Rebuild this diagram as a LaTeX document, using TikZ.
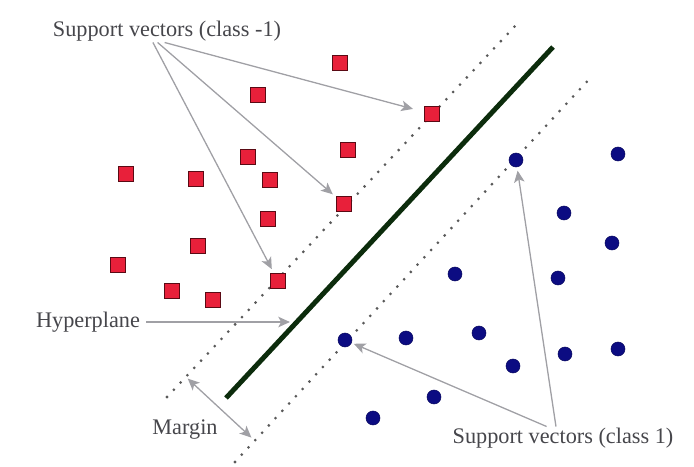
\documentclass[tikz,border=0pt]{standalone}
\usepackage{fontspec}
\setmainfont{Liberation Serif}
\usetikzlibrary{positioning}
\usetikzlibrary{arrows.meta}
\usetikzlibrary{calc}
\definecolor{sqred}{RGB}{232,32,58}
\definecolor{sqedge}{RGB}{90,10,20}
\definecolor{dotblue}{RGB}{12,12,130}
\definecolor{plane}{RGB}{12,44,12}
\definecolor{ptrgray}{RGB}{160,160,165}
\definecolor{txtgray}{RGB}{70,70,75}
\tikzset{>={Stealth[length=10pt, width=9pt, inset=2.5pt]}}
\tikzset{negv/.style={draw=sqedge, fill=sqred, rectangle, minimum size=12.5pt, inner sep=0pt, line width=0.6pt}}
\tikzset{posv/.style={draw=dotblue!70!black, fill=dotblue, circle, minimum size=12pt, inner sep=0pt, line width=0.4pt}}
\tikzset{lbl/.style={text=txtgray, font=\fontsize{19}{22}\selectfont, inner sep=1pt}}
\tikzset{ptr/.style={->, draw=ptrgray, fill=ptrgray, line width=1.1pt, shorten >=4pt}}
\tikzset{marg/.style={draw=black!65, line width=2.6pt, line cap=round, dash pattern=on 0pt off 8.5pt}}

\begin{document}
\begin{tikzpicture}[x=0.03cm, y=-0.03cm]
\useasboundingbox (0,0) rectangle (694,466);

% margins and hyperplane
\coordinate (ua) at (167,397);
\coordinate (ub) at (516,25);
\coordinate (la) at (235,462);
\coordinate (lb) at (593,75);
\coordinate (ha) at (226,398);
\coordinate (hb) at (553,47);
\draw[marg] (ua) -- (ub);
\draw[marg] (la) -- (lb);
\draw[plane, line width=4.2pt] (ha) -- (hb);

% class -1
\node[negv] (n1) at (340,63) {};
\node[negv] (n2) at (258,95) {};
\node[negv] (n3) at (432,114) {};
\node[negv] (n4) at (348,150) {};
\node[negv] (n5) at (248,157) {};
\node[negv] (n6) at (126,174) {};
\node[negv] (n7) at (196,179) {};
\node[negv] (n8) at (270,180) {};
\node[negv] (n9) at (344,204) {};
\node[negv] (n10) at (268,219) {};
\node[negv] (n11) at (198,246) {};
\node[negv] (n12) at (118,265) {};
\node[negv] (n13) at (278,281) {};
\node[negv] (n14) at (172,291) {};
\node[negv] (n15) at (213,300) {};

% class 1
\node[posv] (p1) at (516,160) {};
\node[posv] (p2) at (618,154) {};
\node[posv] (p3) at (564,213) {};
\node[posv] (p4) at (612,243) {};
\node[posv] (p5) at (455,274) {};
\node[posv] (p6) at (558,278) {};
\node[posv] (p7) at (345,340) {};
\node[posv] (p8) at (406,338) {};
\node[posv] (p9) at (479,333) {};
\node[posv] (p10) at (513,366) {};
\node[posv] (p11) at (565,354) {};
\node[posv] (p12) at (618,349) {};
\node[posv] (p13) at (434,397) {};
\node[posv] (p14) at (373,418) {};

% labels
\node[lbl] (svneg) at (167,31) {Support vectors (class -1)};
\node[lbl] (hyp) at (88,322) {Hyperplane};
\node[lbl] (mar) at (185,430) {Margin};
\node[lbl] (svpos) at (563,438) {Support vectors (class 1)};

\draw[ptr, shorten >=10pt] ([xshift=-2pt]svneg.south) -- (n3);
\draw[ptr] ([xshift=-8pt]svneg.south) -- (n9);
\draw[ptr] ([xshift=-12pt]svneg.south) -- (n13);

\coordinate (hpmid) at (297,322);
\draw[ptr, shorten >=6pt, shorten <=4pt] (hyp.east) -- (hpmid);

\coordinate (mu) at (186,377);
\coordinate (ml) at (254,440);
\draw[ptr, <->, shorten <=2pt, shorten >=3pt] (mu) -- (ml);

\draw[ptr, shorten >=2pt] ([xshift=-14pt]svpos.north) -- (p7);
\draw[ptr, shorten >=3pt] ([xshift=-6pt]svpos.north) -- (p1);

\end{tikzpicture}
\end{document}
